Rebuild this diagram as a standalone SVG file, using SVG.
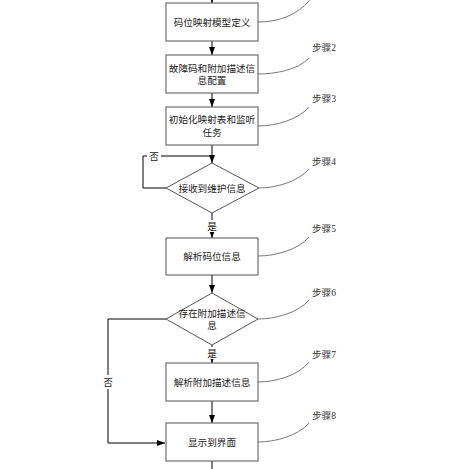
<svg xmlns="http://www.w3.org/2000/svg" width="469" height="469" viewBox="0 0 469 469">
<defs>
<marker id="ah" markerWidth="8" markerHeight="6" refX="8" refY="3" orient="auto" markerUnits="userSpaceOnUse">
<path d="M0,0 L8,3 L0,6 Z" fill="#000"/>
</marker>
<style>
.box{fill:#fff;stroke:#555;stroke-width:1}
.t{font-family:"Liberation Serif","Noto Sans CJK SC",serif;font-size:9.6px;fill:#222;text-anchor:middle;dominant-baseline:central}
.s{font-family:"Liberation Serif","Noto Sans CJK SC",serif;font-size:9.6px;fill:#333;dominant-baseline:central}
.c{fill:none;stroke:#000;stroke-width:1}
.lead{fill:none;stroke:#555;stroke-width:0.8}
</style>
</defs>
<rect width="469" height="469" fill="#fff"/>
<g id="connectors">
<line class="c" x1="212" y1="0" x2="212" y2="3" marker-end="url(#ah)"/>
<line class="c" x1="212" y1="41" x2="212" y2="55" marker-end="url(#ah)"/>
<line class="c" x1="212" y1="93" x2="212" y2="107" marker-end="url(#ah)"/>
<line class="c" x1="212" y1="145" x2="212" y2="163" marker-end="url(#ah)"/>
<polyline class="c" points="166,188 143,188 143,156 212,156"/>
<line class="c" x1="212" y1="213" x2="212" y2="238" marker-end="url(#ah)"/>
<line class="c" x1="212" y1="275" x2="212" y2="293" marker-end="url(#ah)"/>
<line class="c" x1="212" y1="345" x2="212" y2="363" marker-end="url(#ah)"/>
<line class="c" x1="212" y1="401" x2="212" y2="423" marker-end="url(#ah)"/>
<polyline class="c" points="166,319 108,319 108,443 165,443" marker-end="url(#ah)"/>
<line class="c" x1="212" y1="461" x2="212" y2="469"/>
<rect x="147" y="149" width="14" height="13" fill="#fff"/>
<text class="t" x="154" y="156">否</text>
<rect x="205" y="220" width="14" height="12" fill="#fff"/>
<text class="t" x="212" y="226">是</text>
<rect x="205" y="347" width="14" height="12" fill="#fff"/>
<text class="t" x="212" y="353">是</text>
<rect x="101" y="375" width="14" height="14" fill="#fff"/>
<text class="t" x="108" y="382">否</text>
</g>
<g id="leaders">
<path class="lead" d="M258,22 C280,22 300,14 312,-3"/>
<path class="lead" d="M258,74 C275,74 298,70 309,58"/>
<path class="lead" d="M258,126 C275,126 298,120 309,107"/>
<path class="lead" d="M259,188 C275,188 298,182 309,169"/>
<path class="lead" d="M258,256 C275,256 298,250 309,237"/>
<path class="lead" d="M258,319 C275,319 298,313 309,300"/>
<path class="lead" d="M258,382 C275,382 298,376 309,362"/>
<path class="lead" d="M258,442 C275,442 298,436 309,423"/>
<text class="s" x="312" y="47">步骤2</text>
<text class="s" x="312" y="98">步骤3</text>
<text class="s" x="312" y="161">步骤4</text>
<text class="s" x="312" y="228">步骤5</text>
<text class="s" x="312" y="292">步骤6</text>
<text class="s" x="312" y="354">步骤7</text>
<text class="s" x="312" y="415">步骤8</text>
</g>
<g id="n1"><rect class="box" x="166" y="3" width="92" height="38"/><text class="t" x="212" y="22">码位映射模型定义</text></g>
<g id="n2"><rect class="box" x="166" y="55" width="92" height="38"/><text class="t" x="212" y="68">故障码和附加描述信</text><text class="t" x="212" y="80">息配置</text></g>
<g id="n3"><rect class="box" x="166" y="107" width="92" height="38"/><text class="t" x="212" y="119">初始化映射表和监听</text><text class="t" x="212" y="132">任务</text></g>
<g id="n4"><polygon class="box" points="212,163 259,188 212,213 166,188"/><text class="t" x="212" y="188">接收到维护信息</text></g>
<g id="n5"><rect class="box" x="166" y="238" width="92" height="37"/><text class="t" x="212" y="256">解析码位信息</text></g>
<g id="n6"><polygon class="box" points="212,293 258,319 212,345 166,319"/><text class="t" x="212" y="313">存在附加描述信</text><text class="t" x="212" y="325">息</text></g>
<g id="n7"><rect class="box" x="166" y="363" width="92" height="38"/><text class="t" x="212" y="382">解析附加描述信息</text></g>
<g id="n8"><rect class="box" x="166" y="423" width="92" height="38"/><text class="t" x="212" y="442">显示到界面</text></g>
</svg>
